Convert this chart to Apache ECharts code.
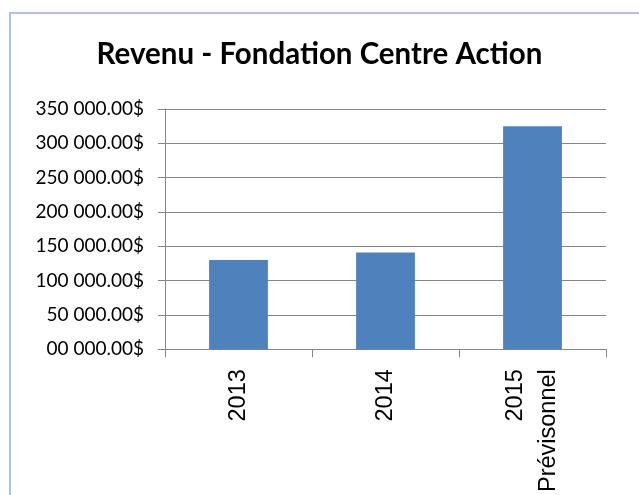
<!DOCTYPE html>
<html>
<head>
<meta charset="utf-8">
<script src="https://cdn.jsdelivr.net/npm/echarts@6/dist/echarts.min.js"></script>
<style>html,body{margin:0;padding:0;background:#fff;}#c{width:639px;height:495px;}</style>
</head>
<body>
<div id="c"></div>
<script>
const titleText = 'Revenu - Fondation Centre Action';
const categories = ['2013', '2014', '2015\nPrévisonnel'];
const revenue = [130000, 141000, 325000];
const yTickValues = [0, 50000, 100000, 150000, 200000, 250000, 300000, 350000];
const yTickLabels = ['00 000.00$', '50 000.00$', '100 000.00$', '150 000.00$', '200 000.00$', '250 000.00$', '300 000.00$', '350 000.00$'];

const chart = echarts.init(document.getElementById('c'), null, {renderer: 'canvas'});
chart.setOption({
  animation: false,
  backgroundColor: '#ffffff',
  graphic: [{
    type: 'rect',
    shape: {x: 10, y: 13, width: 700, height: 600},
    style: {fill: 'none', stroke: '#a9c3ea', lineWidth: 2},
    silent: true
  }],
  title: {
    text: titleText,
    left: 'center',
    top: 34,
    textStyle: {fontFamily: 'Lato', fontWeight: 'bold', fontSize: 29.5, color: '#000'}
  },
  grid: {left: 165, top: 109, right: 33, bottom: 145, containLabel: false},
  xAxis: {
    type: 'category',
    data: categories,
    axisLine: {lineStyle: {color: '#868686', width: 1}},
    axisTick: {show: true, length: 8, lineStyle: {color: '#868686'}},
    axisLabel: {
      rotate: 90, margin: 20, interval: 0,
      fontFamily: 'Liberation Sans', fontSize: 23.5, color: '#000', lineHeight: 33
    }
  },
  yAxis: {
    type: 'value',
    min: 0, max: 350000, interval: 50000,
    axisLine: {show: true, lineStyle: {color: '#868686', width: 1}},
    axisTick: {show: true, length: 7, lineStyle: {color: '#868686'}},
    splitLine: {show: true, lineStyle: {color: '#868686', width: 1}},
    axisLabel: {
      margin: 21,
      fontFamily: 'Lato', fontSize: 19, color: '#000',
      formatter: function (v) {
        const i = yTickValues.indexOf(v);
        return i >= 0 ? yTickLabels[i] : '';
      }
    }
  },
  series: [{
    type: 'bar',
    data: revenue,
    barWidth: '40%',
    itemStyle: {color: '#4f81bd'}
  }]
});
</script>
</body>
</html>
